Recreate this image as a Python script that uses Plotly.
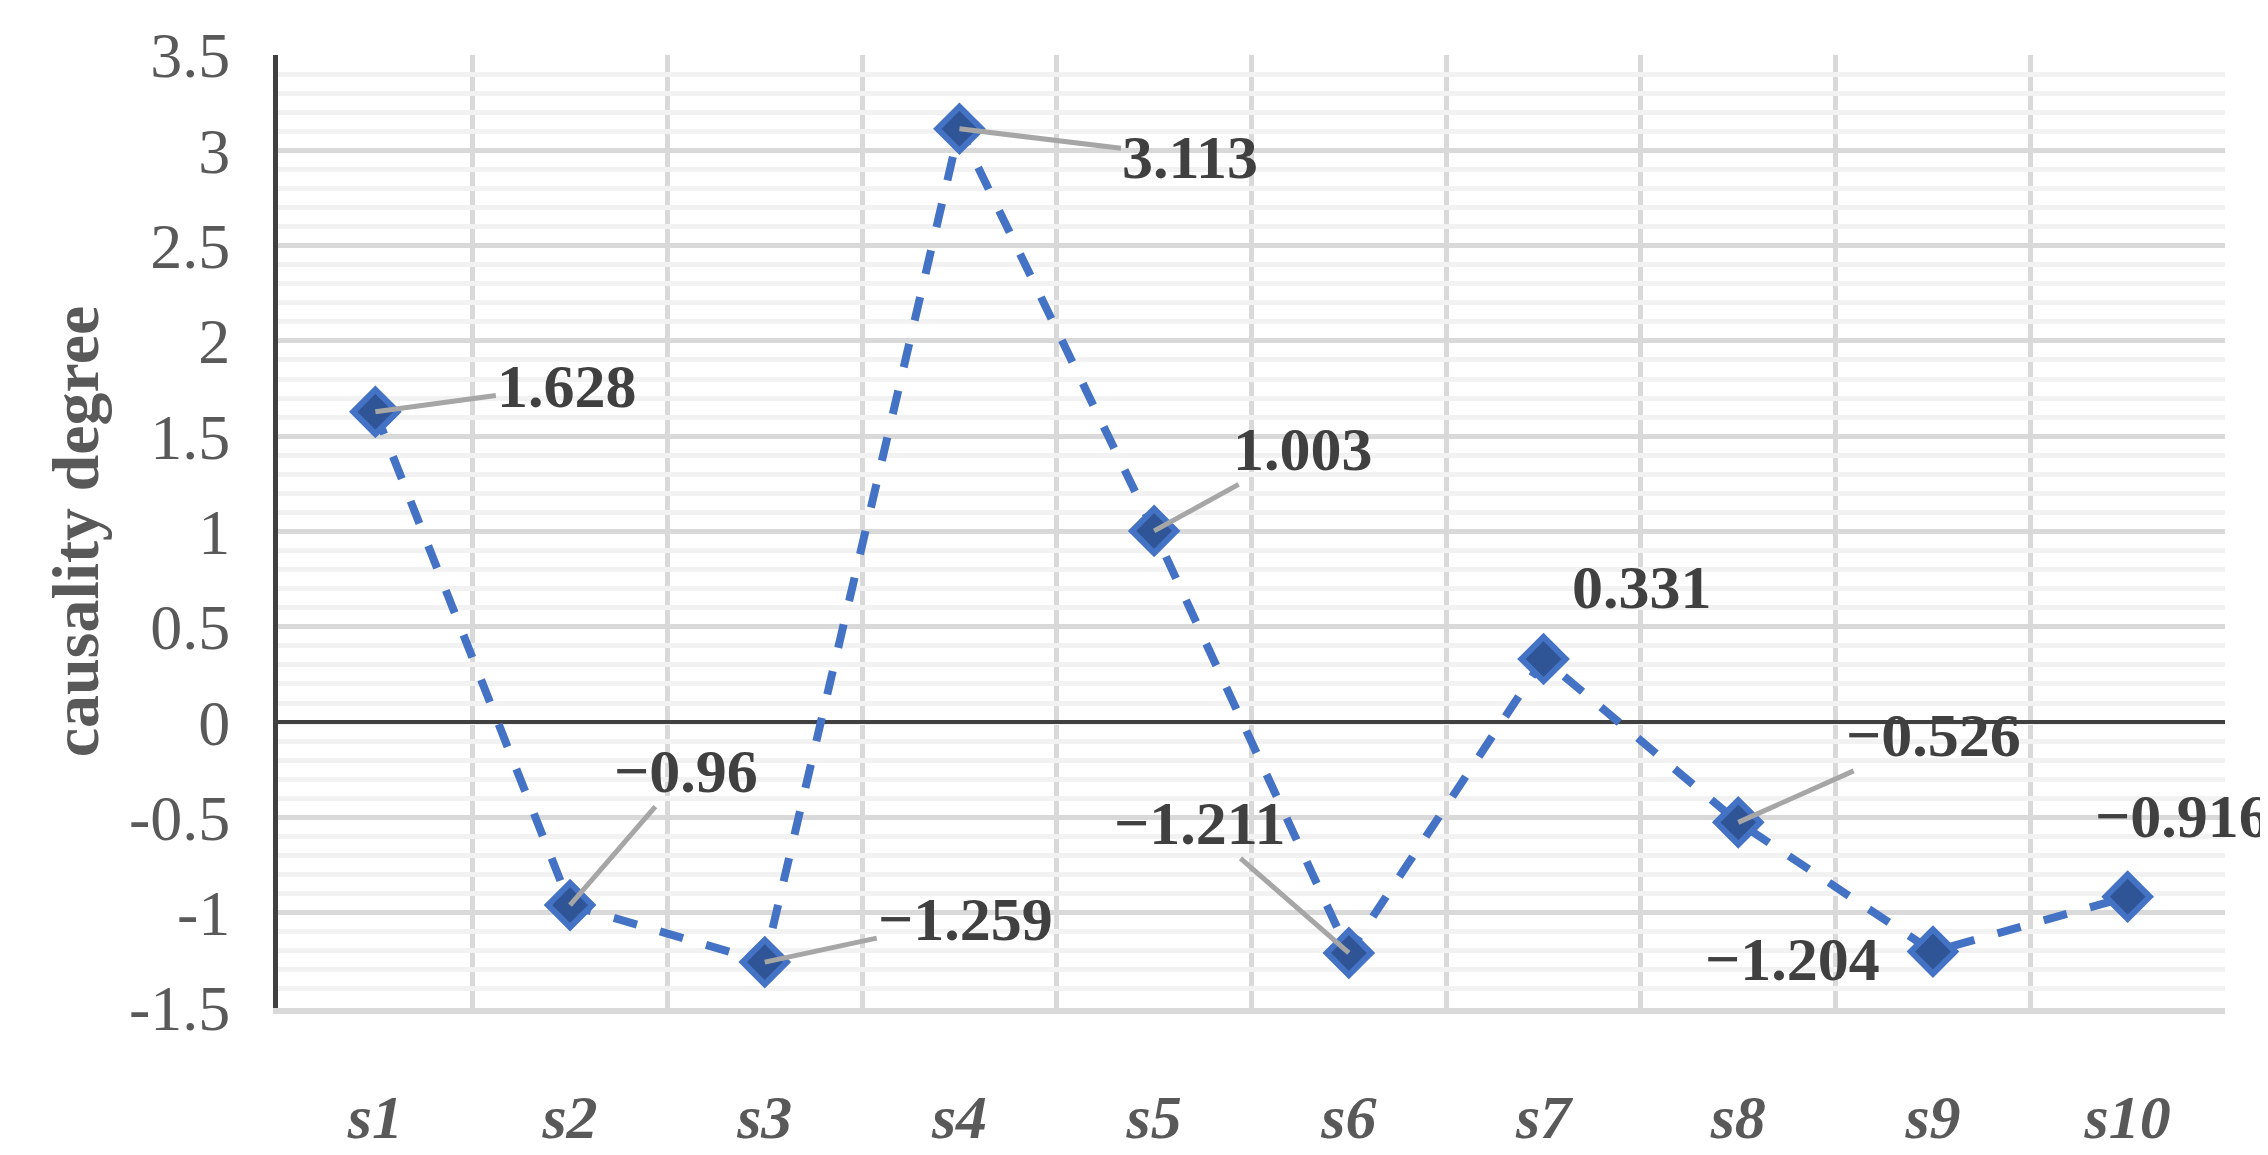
import plotly.graph_objects as go

categories = ['s1', 's2', 's3', 's4', 's5', 's6', 's7', 's8', 's9', 's10']
values = [1.628, -0.96, -1.259, 3.113, 1.003, -1.211, 0.331, -0.526, -1.204, -0.916]
labels = ['1.628', '\u22120.96', '\u22121.259', '3.113', '1.003',
          '\u22121.211', '0.331', '\u22120.526', '\u22121.204', '\u22120.916']
y_ticks = [-1.5, -1, -0.5, 0, 0.5, 1, 1.5, 2, 2.5, 3, 3.5]
y_ticktext = ['-1.5', '-1', '-0.5', '0', '0.5', '1', '1.5', '2', '2.5', '3', '3.5']

# label offsets (px) and whether a leader line is shown
offsets = [(192, -26, True), (116, -134, True), (201, -43, True), (231, 28, True),
           (149, -82, True), (-149, -130, True), (98, -72, False), (195, -87, True),
           (-140, 7, False), (55, -81, False)]

xs = list(range(1, len(categories) + 1))
serif = 'Liberation Serif, Times New Roman, DejaVu Serif, serif'

fig = go.Figure()
fig.add_trace(go.Scatter(
    x=xs, y=values, mode='lines+markers',
    line=dict(color='#4472c4', width=8, dash='dash'),
    marker=dict(symbol='diamond', size=34, color='#2f5597',
                line=dict(color='#4472c4', width=6)),
    showlegend=False))

for x, v, lab, (ax, ay, lead) in zip(xs, values, labels, offsets):
    fig.add_annotation(
        x=x, y=v, text='<b>' + lab + '</b>', ax=ax, ay=ay,
        showarrow=True, arrowhead=0, arrowwidth=5,
        arrowcolor='#a6a6a6' if lead else 'rgba(0,0,0,0)',
        font=dict(family=serif, size=62, color='#404040'))

fig.update_xaxes(
    range=[0.5, 10.5], tickvals=xs,
    ticktext=['<b><i>' + c + '</i></b>' for c in categories],
    tickfont=dict(family=serif, size=62, color='#595959'),
    showgrid=False, zeroline=False, ticks='outside', ticklen=50, tickcolor='rgba(0,0,0,0)',
    showline=True, linecolor='#d9d9d9', linewidth=6,
    minor=dict(tickvals=[i + 0.5 for i in range(11)], showgrid=True,
               gridcolor='#d9d9d9', gridwidth=5))
fig.update_yaxes(
    range=[-1.5, 3.5], tickvals=y_ticks, ticktext=y_ticktext,
    tickfont=dict(family=serif, size=64, color='#595959'),
    ticks='outside', ticklen=30, tickcolor='rgba(0,0,0,0)',
    showgrid=True, gridcolor='#d9d9d9', gridwidth=5,
    minor=dict(dtick=0.1, showgrid=True, gridcolor='#f2f2f2', gridwidth=5),
    zeroline=True, zerolinecolor='#404040', zerolinewidth=4,
    showline=True, linecolor='#404040', linewidth=5,
    title=dict(text='<b>causality degree</b>', font=dict(family=serif, size=66, color='#595959'),
               standoff=10))
fig.update_layout(
    width=2268, height=1155, plot_bgcolor='white', paper_bgcolor='white',
    margin=dict(l=270, r=51, t=42, b=123))
fig.write_html('out.html')
